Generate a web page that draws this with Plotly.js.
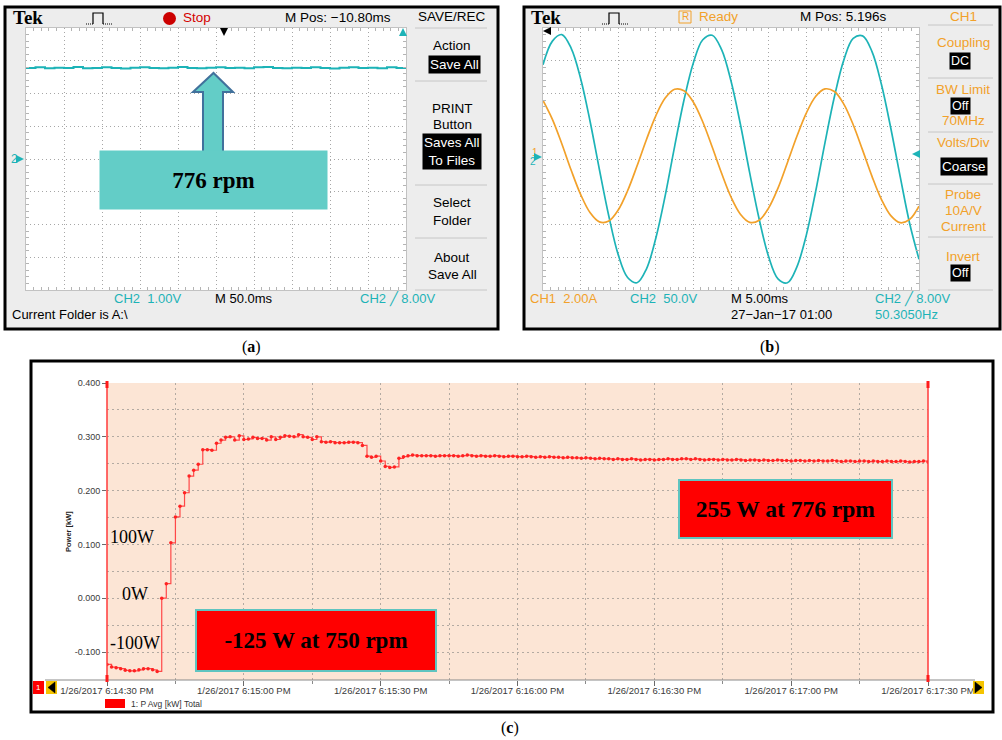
<!DOCTYPE html>
<html>
<head>
<meta charset="utf-8">
<script src="https://cdn.plot.ly/plotly-3.0.1.min.js"></script>
<style>
  html, body { margin: 0; padding: 0; background: #fff; }
  #fig { width: 1002px; height: 740px; }
</style>
</head>
<body>
<div id="fig"></div>
<script>
// ---- (a) speed channel, CH2 1.00 V/div, 50 ms/div ----
const speedTimeMs = [0,12.5,25,37.5,50,62.5,75,87.5,100,112.5,125,137.5,150,162.5,175,187.5,200,212.5,225,237.5,250,262.5,275,287.5,300,312.5,325,337.5,350,362.5,375,387.5,400,412.5,425,437.5,450,462.5,475,487.5,500];
const speedVolts = [2.78,2.80,2.77,2.79,2.78,2.81,2.77,2.78,2.80,2.78,2.76,2.79,2.80,2.78,2.77,2.79,2.81,2.78,2.77,2.79,2.80,2.78,2.79,2.77,2.80,2.81,2.78,2.77,2.79,2.78,2.80,2.78,2.76,2.79,2.80,2.78,2.79,2.77,2.80,2.78,2.79];

// ---- (b) phase voltage (CH2, 50 V/div) and current (CH1, 2 A/div), 5 ms/div ----
const waveTimeMs = [0,1.25,2.5,3.75,5,6.25,7.5,8.75,10,11.25,12.5,13.75,15,16.25,17.5,18.75,20,21.25,22.5,23.75,25,26.25,27.5,28.75,30,31.25,32.5,33.75,35,36.25,37.5,38.75,40,41.25,42.5,43.75,45,46.25,47.5,48.75,50];
const phaseVoltage = [144,180,190,169,123,58,-16,-87,-146,-181,-189,-168,-121,-56,19,90,147,182,189,167,119,53,-22,-92,-149,-183,-189,-165,-117,-50,25,95,151,184,188,164,114,47,-27,-98,-153];
const phaseCurrent = [3.58,2.42,0.93,-0.69,-2.16,-3.27,-3.84,-3.79,-3.12,-1.94,-0.43,1.18,2.64,3.72,4.26,4.17,3.47,2.26,0.73,-0.87,-2.32,-3.37,-3.87,-3.74,-3.00,-1.78,-0.23,1.37,2.79,3.82,4.28,4.12,3.35,2.09,0.54,-1.06,-2.47,-3.46,-3.89,-3.69,-2.88];

// ---- (c) logged total active power, seconds after 6:14:30 PM ----
const logSeconds = [0,1,2,3,4,5,6,7,8,9,10,11,12,13,14,15,16,17,18,19,20,21,22,23,24,25,26,27,28,29,30,31,32,33,34,35,36,37,38,39,40,41,42,43,44,45,46,47,48,49,50,51,52,53,54,55,56,57,58,59,60,61,62,63,64,65,66,67,68,69,70,71,72,73,74,75,76,77,78,79,80,81,82,83,84,85,86,87,88,89,90,91,92,93,94,95,96,97,98,99,100,101,102,103,104,105,106,107,108,109,110,111,112,113,114,115,116,117,118,119,120,121,122,123,124,125,126,127,128,129,130,131,132,133,134,135,136,137,138,139,140,141,142,143,144,145,146,147,148,149,150,151,152,153,154,155,156,157,158,159,160,161,162,163,164,165,166,167,168,169,170,171,172,173,174,175,176,177,178,179,180];
const powerKW = [
  -0.123,-0.128,-0.129,-0.131,-0.134,-0.135,-0.135,-0.133,-0.131,-0.131,-0.133,-0.136,
  0.000,0.027,0.103,0.151,0.171,0.196,0.227,0.238,0.249,0.276,0.276,0.275,0.288,0.294,0.299,0.300,0.294,0.302,
  0.295,0.296,0.299,0.297,0.297,0.294,0.300,0.295,0.299,0.302,0.301,0.300,0.304,0.300,0.299,0.295,0.300,0.291,0.290,0.291,
  0.289,0.289,0.289,0.290,0.290,0.289,0.284,0.264,0.262,0.264,0.255,0.245,0.243,0.244,0.260,0.263,0.265,0.266,0.265,0.265,
  0.265,0.265,0.264,0.265,0.265,0.265,
  0.265,0.264,0.265,0.266,0.265,0.264,0.265,0.264,0.264,0.265,0.264,0.263,0.264,0.264,0.263,
  0.263,0.264,0.263,0.262,0.263,0.262,0.263,0.262,0.262,0.261,0.262,0.261,0.261,0.260,0.261,
  0.260,0.259,0.260,0.259,0.259,0.258,0.259,0.258,0.258,0.259,0.258,0.257,0.258,0.258,0.257,
  0.258,0.258,0.259,0.258,0.258,0.259,0.259,0.258,0.259,0.258,0.257,0.258,0.258,0.257,0.258,
  0.257,0.257,0.258,0.257,0.256,0.257,0.257,0.256,0.257,0.256,0.256,0.257,0.256,0.256,0.255,
  0.256,0.256,0.255,0.256,0.255,0.256,0.255,0.255,0.256,0.255,0.254,0.255,0.255,0.254,0.255,
  0.255,0.254,0.255,0.254,0.254,0.255,0.254,0.254,0.255,0.254,0.253,0.254,0.254,0.255,0.253
];
const logTickSeconds = [0,30,60,90,120,150,180];
const logTickLabels = ['1/26/2017 6:14:30 PM','1/26/2017 6:15:00 PM','1/26/2017 6:15:30 PM','1/26/2017 6:16:00 PM','1/26/2017 6:16:30 PM','1/26/2017 6:17:00 PM','1/26/2017 6:17:30 PM'];
const logMinorSeconds = [15,45,75,105,135,165];
const powerTickValues = [-0.1,0,0.1,0.2,0.3,0.4];
const powerTickLabels = ['-0.100','0.000','0.100','0.200','0.300','0.400'];
const powerMinorValues = [-0.05,0.05,0.15,0.25,0.35];

// ---- page geometry helpers (pixel -> paper) ----
const W = 1002, H = 740;
const X = v => v / W, Y = v => 1 - v / H;
const SANS = 'Liberation Sans, Arial, sans-serif';
const SERIF = 'Liberation Serif, Times New Roman, serif';
const CYAN = '#1db3b7', ORANGE = '#f2a12a', SCOPE_BG = '#ededed';

const shapes = [];
const ann = [];
function box(x0, y0, x1, y1, fill, lineColor, lw, layer) {
  shapes.push({type: 'rect', xref: 'paper', yref: 'paper', x0: X(x0), x1: X(x1), y0: Y(y1), y1: Y(y0),
    fillcolor: fill || 'rgba(0,0,0,0)', line: {color: lineColor || 'rgba(0,0,0,0)', width: lw || 0}, layer: layer || 'above'});
}
function seg(x0, y0, x1, y1, color, w, dash) {
  shapes.push({type: 'line', xref: 'paper', yref: 'paper', x0: X(x0), y0: Y(y0), x1: X(x1), y1: Y(y1),
    line: {color: color, width: w || 1, dash: dash || 'solid'}, layer: 'above'});
}
function poly(pts, fill, color, w, closed) {
  const d = pts.map((p, i) => (i ? 'L' : 'M') + X(p[0]).toFixed(5) + ',' + Y(p[1]).toFixed(5)).join(' ') + (closed ? ' Z' : '');
  shapes.push({type: 'path', xref: 'paper', yref: 'paper', path: d, fillcolor: fill || 'rgba(0,0,0,0)',
    line: {color: color || 'rgba(0,0,0,0)', width: w || 0}, layer: 'above'});
}
function dot(cx, cy, r, fill) {
  shapes.push({type: 'circle', xref: 'paper', yref: 'paper', x0: X(cx - r), x1: X(cx + r), y0: Y(cy + r), y1: Y(cy - r),
    fillcolor: fill, line: {width: 0}, layer: 'above'});
}
function txt(text, x, y, o) {
  o = o || {};
  ann.push(Object.assign({text: text, x: X(x), y: Y(y), xref: 'paper', yref: 'paper', showarrow: false,
    xanchor: o.anchor || 'left', yanchor: 'middle',
    font: {family: o.family || SANS, size: o.size || 13.5, color: o.color || '#000'}}, o.extra || {}));
}
function hl(text, x, y, size) {   // inverted (highlighted) menu entry
  txt(text, x, y, {anchor: 'center', color: '#fff', size: size || 13.5, extra: {bgcolor: '#000', borderpad: 1}});
}
function arrow(x, y, ax, ay, color) {
  ann.push({text: '', x: X(x), y: Y(y), xref: 'paper', yref: 'paper', showarrow: true, ax: ax, ay: ay,
    arrowhead: 2, arrowsize: 1, arrowwidth: 1.6, arrowcolor: color, standoff: 0});
}
function pulseIcon(x0) {
  seg(x0, 24, x0 + 7, 24, '#000', 1, '1px,1px');
  poly([[x0 + 7, 24], [x0 + 7, 13], [x0 + 17, 13], [x0 + 17, 24]], null, '#000', 1.2, false);
  seg(x0 + 17, 24, x0 + 26, 24, '#000', 1, '1px,1px');
}

// ---- scope frames and screens ----
box(5, 7, 498, 329, SCOPE_BG, '#000', 3, 'below');
box(26, 28, 406, 290, '#fff', null, 0, 'below');
box(524, 7, 1000, 329, SCOPE_BG, '#000', 3, 'below');
box(543, 28, 919, 290, '#fff', null, 0, 'below');
// power log frame and plot area
box(31, 361, 993, 712, '#fff', '#000', 3, 'below');
box(107, 383, 928, 680, '#fce5d5', null, 0, 'below');

// ---- (a) screen furniture ----
txt('<b>Tek</b>', 11, 18, {family: SERIF, size: 19});
pulseIcon(86);
dot(169.5, 18.5, 6.5, '#cc0000');
txt('Stop', 181, 18, {color: '#d40000'});
txt('M Pos: \u221210.80ms', 283, 18);
txt('SAVE/REC', 452, 16, {anchor: 'center'});
[28, 81, 185, 238, 290].forEach(y => seg(415, y, 487, y, '#c6c6c6', 1));
txt('Action', 452, 45, {anchor: 'center'});
hl('Save All', 454, 64);
txt('PRINT', 452, 108, {anchor: 'center'});
txt('Button', 452, 125, {anchor: 'center'});
hl('Saves All<br>To Files', 452, 151);
txt('Select', 452, 203, {anchor: 'center'});
txt('Folder', 452, 220, {anchor: 'center'});
txt('About', 452, 257, {anchor: 'center'});
txt('Save All', 452, 274, {anchor: 'center'});
txt('CH2\u00a0\u00a01.00V', 112, 298, {color: CYAN, size: 13});
txt('M 50.0ms', 213, 298, {size: 13});
txt('CH2 \u2571 8.00V', 358, 298, {color: CYAN, size: 13});
txt('Current Folder is A:\\', 10, 314, {size: 13});
txt('2', 9, 159, {color: CYAN, size: 12});
arrow(24, 159, -6, 0, CYAN);
arrow(224, 36, 0, -8, '#000');
arrow(403, 28, 0, 7, CYAN);
// speed callout
poly([[203, 152], [203, 92], [193, 92], [213.5, 73], [233, 92], [223, 92], [223, 152]], '#63cdc7', '#41719c', 2, true);
ann.push({text: '<b>776 rpm</b>', x: X(213.5), y: Y(180), xref: 'paper', yref: 'paper', showarrow: false,
  xanchor: 'center', yanchor: 'middle', width: 227, height: 58, borderpad: 0, bgcolor: '#63cdc7',
  font: {family: SERIF, size: 23, color: '#000'}});

// ---- (b) screen furniture ----
txt('<b>Tek</b>', 529, 18, {family: SERIF, size: 19});
pulseIcon(602);
box(679, 11, 691, 23, null, ORANGE, 1);
txt('R', 685, 17, {anchor: 'center', color: ORANGE, size: 10});
txt('Ready', 697, 17, {color: ORANGE});
txt('M Pos: 5.196s', 798, 17);
txt('CH1', 963, 16, {anchor: 'center', color: ORANGE});
[25, 78, 132, 184, 237, 290].forEach(y => seg(928, y, 993, y, '#c6c6c6', 1));
txt('Coupling', 963, 43, {anchor: 'center', color: ORANGE});
hl('DC', 960, 61, 12.5);
txt('BW Limit', 963, 89, {anchor: 'center', color: ORANGE});
hl('Off', 960, 106, 12.5);
txt('70MHz', 963, 120, {anchor: 'center', color: ORANGE});
txt('Volts/Div', 963, 142, {anchor: 'center', color: ORANGE});
hl('Coarse', 964, 166);
txt('Probe', 963, 194, {anchor: 'center', color: ORANGE});
txt('10A/V', 963, 210, {anchor: 'center', color: ORANGE});
txt('Current', 963, 227, {anchor: 'center', color: ORANGE});
txt('Invert', 963, 256, {anchor: 'center', color: ORANGE});
hl('Off', 960, 273, 12.5);
txt('CH1\u00a0\u00a02.00A', 528, 298, {color: ORANGE, size: 13});
txt('CH2\u00a0\u00a050.0V', 628, 298, {color: CYAN, size: 13});
txt('M 5.00ms', 729, 298, {size: 13});
txt('27\u2212Jan\u221217 01:00', 729, 314, {size: 13});
txt('CH2 \u2571 8.00V', 873, 298, {color: CYAN, size: 13});
txt('50.3050Hz', 873, 314, {color: CYAN, size: 13});
txt('1', 530, 152, {color: ORANGE, size: 10});
txt('2', 528, 161, {color: CYAN, size: 10});
arrow(542, 157, -5, 0, CYAN);
arrow(543, 31, 8, 0, '#000');
arrow(912, 154, 8, 0, CYAN);

// ---- (c) power log furniture ----
seg(45, 680, 975, 680, '#8a8a8a', 1);
seg(107, 383, 107, 680, '#ff3a3a', 1.5);
seg(928, 383, 928, 680, '#ff3a3a', 1.5);
box(105.5, 381, 108.5, 388, '#ff1a1a');
box(926.5, 381, 929.5, 388, '#ff1a1a');
box(105.5, 675, 108.5, 682, '#ff1a1a');
box(926.5, 675, 929.5, 682, '#ff1a1a');
box(33, 681, 44, 694, '#ff0000');
txt('1', 38.5, 687.5, {anchor: 'center', color: '#fff', size: 8});
box(46, 681, 57, 694, '#f5c400');
poly([[48, 687.5], [55, 682], [55, 693]], '#000', '#000', 0.5, true);
box(973, 681, 984, 694, '#f5c400');
poly([[982, 687.5], [975, 682], [975, 693]], '#000', '#000', 0.5, true);
box(105, 699, 125, 708, '#ff0000');
txt('1: P Avg [kW] Total', 129, 703.5, {size: 8.5, color: '#333'});
ann.push({text: '<b>Power [kW]</b>', x: X(68), y: Y(532), xref: 'paper', yref: 'paper', showarrow: false,
  textangle: -90, xanchor: 'center', yanchor: 'middle', font: {family: SANS, size: 7.5, color: '#222'}});
txt('100W', 108, 537, {family: SERIF, size: 18});
txt('0W', 120, 594, {family: SERIF, size: 18});
txt('-100W', 108, 643, {family: SERIF, size: 18});
ann.push({text: '<b>-125 W at 750 rpm</b>', x: X(316), y: Y(640.5), xref: 'paper', yref: 'paper', showarrow: false,
  xanchor: 'center', yanchor: 'middle', width: 238, height: 59, borderpad: 0, borderwidth: 2,
  bgcolor: '#ff0000', bordercolor: '#5fc4c0', font: {family: SERIF, size: 23, color: '#000'}});
ann.push({text: '<b>255 W at 776 rpm</b>', x: X(785.5), y: Y(509), xref: 'paper', yref: 'paper', showarrow: false,
  xanchor: 'center', yanchor: 'middle', width: 211, height: 56, borderpad: 0, borderwidth: 2,
  bgcolor: '#ff0000', bordercolor: '#5fc4c0', font: {family: SERIF, size: 23.5, color: '#000'}});

// panel captions
txt('(<b>a</b>)', 251, 347, {anchor: 'center', family: SERIF, size: 16});
txt('(<b>b</b>)', 770, 347, {anchor: 'center', family: SERIF, size: 16});
txt('(<b>c</b>)', 510, 728, {anchor: 'center', family: SERIF, size: 16});

// ---- axes ----
const scopeAxis = {showgrid: true, gridcolor: '#a6a6a6', griddash: '1px,3px', gridwidth: 1, zeroline: false,
  showticklabels: false, ticks: '', showline: true, linecolor: '#c2c2c2', linewidth: 1, mirror: 'ticks', fixedrange: true};
const crossAxis = {showgrid: false, zeroline: false, showticklabels: false, showline: false, ticks: 'inside',
  ticklen: 6, tickcolor: '#b4b4b4', tickwidth: 1, anchor: 'free', fixedrange: true};
const logGrid = {showgrid: true, gridcolor: '#b3aaa2', griddash: '2px,3px', gridwidth: 1};

const layout = {
  width: W, height: H, autosize: false,
  margin: {l: 0, r: 0, t: 0, b: 0, pad: 0},
  paper_bgcolor: '#fff', plot_bgcolor: 'rgba(0,0,0,0)',
  showlegend: false, hovermode: false,
  font: {family: SANS, color: '#000'},
  xaxis: Object.assign({}, scopeAxis, {domain: [X(26), X(406)], range: [0, 500], tick0: 0, dtick: 50, anchor: 'y',
    minor: {dtick: 10, ticks: 'inside', ticklen: 3, tickcolor: '#b4b4b4', showgrid: false}}),
  yaxis: Object.assign({}, scopeAxis, {domain: [Y(290), Y(28)], range: [-4, 4], tick0: 0, dtick: 1, anchor: 'x',
    minor: {dtick: 0.2, ticks: 'inside', ticklen: 3, tickcolor: '#b4b4b4', showgrid: false}}),
  xaxis2: Object.assign({}, scopeAxis, {domain: [X(543), X(919)], range: [0, 50], tick0: 0, dtick: 5, anchor: 'y2',
    minor: {dtick: 1, ticks: 'inside', ticklen: 3, tickcolor: '#b4b4b4', showgrid: false}}),
  yaxis2: Object.assign({}, scopeAxis, {domain: [Y(290), Y(28)], range: [-200, 200], tick0: 0, dtick: 50, anchor: 'x2',
    minor: {dtick: 10, ticks: 'inside', ticklen: 3, tickcolor: '#b4b4b4', showgrid: false}}),
  yaxis3: {overlaying: 'y2', anchor: 'x2', range: [-8, 8], visible: false, fixedrange: true},
  xaxis5: Object.assign({}, crossAxis, {overlaying: 'x', range: [0, 500], tick0: 0, dtick: 10, position: Y(162)}),
  yaxis5: Object.assign({}, crossAxis, {overlaying: 'y', range: [-4, 4], tick0: 0, dtick: 0.2, position: X(213)}),
  xaxis6: Object.assign({}, crossAxis, {overlaying: 'x2', range: [0, 50], tick0: 0, dtick: 1, position: Y(162)}),
  yaxis6: Object.assign({}, crossAxis, {overlaying: 'y2', range: [-200, 200], tick0: 0, dtick: 10, position: X(728)}),
  xaxis4: Object.assign({}, logGrid, {domain: [X(107), X(928)], range: [0, 180], anchor: 'y4', zeroline: false,
    tickmode: 'array', tickvals: logTickSeconds, ticktext: logTickLabels,
    ticks: 'outside', ticklen: 5, tickcolor: '#6a6a6a', tickwidth: 1, showline: false, ticklabelstandoff: -3,
    tickfont: {family: SANS, size: 9.5, color: '#3a3a3a'}, fixedrange: true,
    minor: Object.assign({}, logGrid, {tickmode: 'array', tickvals: logMinorSeconds, ticks: 'outside', ticklen: 3, tickcolor: '#8a8a8a'})}),
  yaxis4: Object.assign({}, logGrid, {domain: [Y(680), Y(383)], range: [-0.152, 0.4], anchor: 'x4', zeroline: false,
    tickmode: 'array', tickvals: powerTickValues, ticktext: powerTickLabels,
    ticks: 'outside', ticklen: 4, tickcolor: '#6a6a6a', tickwidth: 1, showline: false,
    tickfont: {family: SANS, size: 9, color: '#3a3a3a'}, fixedrange: true,
    minor: Object.assign({}, logGrid, {tickmode: 'array', tickvals: powerMinorValues, ticks: ''})}),
  shapes: shapes,
  annotations: ann
};

const traces = [
  {type: 'scatter', mode: 'lines', x: speedTimeMs, y: speedVolts, xaxis: 'x', yaxis: 'y',
    line: {color: CYAN, width: 2, shape: 'hv'}},
  {type: 'scatter', mode: 'lines', x: waveTimeMs, y: phaseVoltage, xaxis: 'x2', yaxis: 'y2',
    line: {color: CYAN, width: 1.7, shape: 'spline', smoothing: 1}},
  {type: 'scatter', mode: 'lines', x: waveTimeMs, y: phaseCurrent, xaxis: 'x2', yaxis: 'y3',
    line: {color: ORANGE, width: 1.7, shape: 'spline', smoothing: 1}},
  {type: 'scatter', mode: 'lines+markers', x: logSeconds, y: powerKW, xaxis: 'x4', yaxis: 'y4',
    line: {color: '#ff4848', width: 1.2, shape: 'hv'}, marker: {size: 3.5, color: '#ff2222'}}
];

Plotly.newPlot('fig', traces, layout, {staticPlot: true, displayModeBar: false});
</script>
</body>
</html>
